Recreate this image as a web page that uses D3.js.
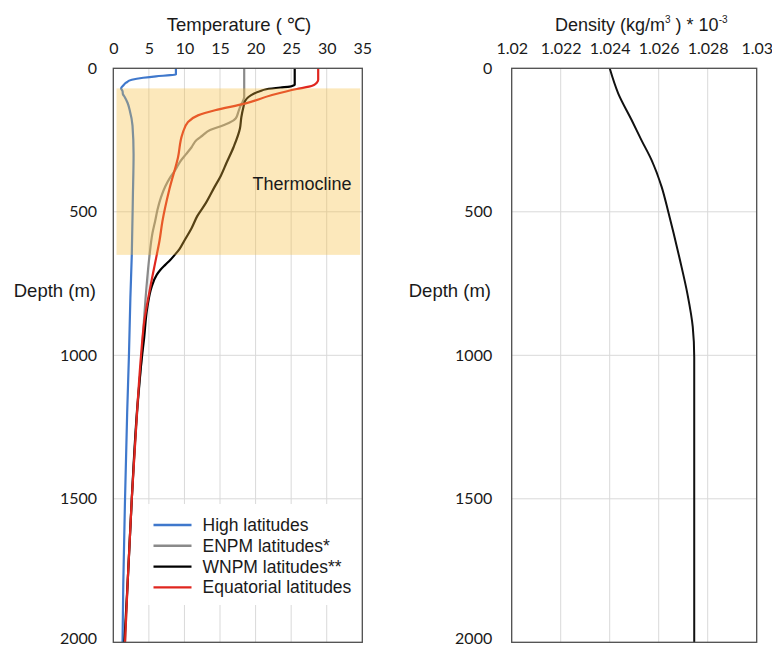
<!DOCTYPE html>
<html>
<head>
<meta charset="utf-8">
<script src="https://cdn.jsdelivr.net/npm/d3@7"></script>
<style>
  body { margin: 0; background: #fff; }
  svg { display: block; background: #fff; }
  text { font-family: "Liberation Sans", Arial, sans-serif; fill: #1a1a1a; }
  .tick text { font-family: Lato, "Open Sans", sans-serif; font-size: 16px; fill: #1a1a1a; }
</style>
</head>
<body>
<div id="chart"></div>
<script>
// ticks
var depthTicks = [0, 500, 1000, 1500, 2000];
var tempTicks = [0, 5, 10, 15, 20, 25, 30, 35];
var densityTicks = [1.02, 1.022, 1.024, 1.026, 1.028, 1.03];

// series: [depth (m), temperature (°C)]
var seriesNames = ["High latitudes", "ENPM latitudes*", "WNPM latitudes**", "Equatorial latitudes"];
var seriesColors = ["#3f78cc", "#8a8a8a", "#000000", "#e0261f"];

var highLatitudes = [[0, 8.8], [22, 8.8], [24, 8.0], [28, 6.0], [33, 4.2], [40, 2.6], [50, 1.8], [60, 1.4],
    [70, 1.1], [80, 1.3], [90, 1.35], [100, 1.6], [120, 2.0], [145, 2.3], [200, 2.7], [300, 2.85],
    [450, 2.75], [650, 2.6], [800, 2.4], [1000, 2.2], [1200, 1.95], [1500, 1.65], [1800, 1.4], [2000, 1.3]];

var enpmLatitudes = [[0, 18.4], [100, 18.4], [115, 18.2], [130, 17.9], [150, 17.6], [175, 17.2], [190, 16.3],
    [200, 15.3], [215, 13.6], [235, 12.5], [250, 11.7], [275, 11.0], [300, 10.2], [325, 9.4], [355, 8.7],
    [380, 8.0], [412, 7.3], [450, 6.7], [494, 6.2], [530, 5.9], [575, 5.5], [650, 5.1], [767, 4.65],
    [883, 4.3], [1000, 4.0], [1200, 3.35], [1500, 2.6], [1800, 2.0], [2000, 1.65]];

var wnpmLatitudes = [[0, 25.5], [57, 25.5], [60, 25.3], [64, 24.8], [67, 23.5], [73, 21.5], [80, 20.6],
    [88, 19.8], [100, 19.0], [115, 18.5], [134, 18.3], [170, 18.0], [210, 17.8], [275, 16.9], [330, 15.9],
    [375, 15.1], [415, 14.2], [470, 13.0], [515, 11.8], [557, 11.0], [600, 10.0], [630, 9.3], [651, 8.6],
    [668, 8.0], [685, 7.3], [703, 6.6], [720, 6.1], [761, 5.4], [830, 4.8], [947, 4.3], [1000, 4.05],
    [1173, 3.4], [1500, 2.6], [1800, 2.0], [2000, 1.55]];

var equatorialLatitudes = [[0, 28.8], [40, 28.8], [50, 28.6], [58, 28.2], [64, 27.5], [72, 25.8], [94, 22.2],
    [123, 18.5], [146, 14.3], [164, 11.9], [187, 10.5], [230, 9.7], [310, 9.1], [420, 7.9], [534, 6.9],
    [600, 6.5], [651, 6.1], [750, 5.3], [883, 4.35], [1000, 3.9], [1173, 3.4], [1500, 2.6], [1800, 2.0],
    [2000, 1.65]];

var temperatureSeries = [highLatitudes, enpmLatitudes, wnpmLatitudes, equatorialLatitudes];

// thermocline depth range (m)
var thermocline = [70, 650];

// density: [depth (m), density]
var densityProfile = [[0, 1.0240], [88, 1.02435], [181, 1.0249], [251, 1.0253], [320, 1.02571],
    [413, 1.02612], [500, 1.02639], [669, 1.02687], [785, 1.02717], [901, 1.02739], [1006, 1.02745],
    [2000, 1.02745]];

var svg = d3.select("#chart").append("svg")
    .attr("width", 772)
    .attr("height", 646);

class DepthProfile {
    constructor(svg, left, right, xDomain) {
        this.svg = svg;
        this.x = d3.scaleLinear().domain(xDomain).range([left, right]);
        this.y = d3.scaleLinear().domain([0, 2000]).range([68.3, 642.3]);
        this.g = svg.append("g");
        this.gridLayer = this.g.append("g");
        this.markLayer = this.g.append("g");
        this.topLayer = this.g.append("g");
    }

    /**
     * light gray gridlines inside the frame
     */
    addGrid(xTicks) {
        var x = this.x, y = this.y;
        this.gridLayer.append("g").selectAll("line")
            .data(xTicks.slice(1, -1)).join("line")
            .attr("x1", x).attr("x2", x)
            .attr("y1", y(0)).attr("y2", y(2000))
            .attr("stroke", "#d9d9d9").attr("stroke-width", 1);
        this.gridLayer.append("g").selectAll("line")
            .data(depthTicks.slice(1, -1)).join("line")
            .attr("x1", x.range()[0]).attr("x2", x.range()[1])
            .attr("y1", y).attr("y2", y)
            .attr("stroke", "#d9d9d9").attr("stroke-width", 1);
        return this;
    }

    /**
     * tick labels on top and left, no tick marks
     */
    addAxes(xTicks, format, yPad, yLabelEnd) {
        var top = this.topLayer.append("g")
            .attr("transform", "translate(0," + this.y(0) + ")")
            .call(d3.axisTop(this.x).tickValues(xTicks).tickSize(0).tickPadding(14).tickFormat(format));
        top.select(".domain").remove();

        var left = this.topLayer.append("g")
            .attr("transform", "translate(" + this.x.range()[0] + ",0)")
            .call(d3.axisLeft(this.y).tickValues(depthTicks).tickSize(0).tickPadding(yPad).tickFormat(d3.format("d")));
        left.select(".domain").remove();
        // last label would run off the bottom edge
        left.selectAll(".tick text").filter((d) => d === 2000).attr("dy", "0.1em");

        this.topLayer.append("text")
            .attr("x", yLabelEnd)
            .attr("y", 290)
            .attr("text-anchor", "end")
            .attr("dominant-baseline", "central")
            .attr("font-size", "18.5px")
            .text("Depth (m)");
        return this;
    }

    addLine(data, color, width) {
        var line = d3.line()
            .x((d) => this.x(d[1]))
            .y((d) => this.y(d[0]))
            .curve(d3.curveMonotoneY);
        this.markLayer.append("path")
            .datum(data)
            .attr("d", line)
            .attr("fill", "none")
            .attr("stroke", color)
            .attr("stroke-width", width)
            .attr("stroke-linejoin", "round");
        return this;
    }

    addFrame() {
        var x = this.x.range(), y = this.y.range();
        this.topLayer.append("rect")
            .attr("x", x[0]).attr("y", y[0])
            .attr("width", x[1] - x[0]).attr("height", y[1] - y[0])
            .attr("fill", "none")
            .attr("stroke", "#4d4d4d")
            .attr("stroke-width", 1.3);
        return this;
    }
}

// LEFT: temperature
var temp = new DepthProfile(svg, 113.3, 362.3, [0, 35]);
temp.addGrid(tempTicks);

// legend background covers the grid
temp.gridLayer.append("rect")
    .attr("x", temp.x(4.9)).attr("y", 504)
    .attr("width", temp.x(35) - temp.x(4.9) - 1).attr("height", 101)
    .attr("fill", "#fff");

temperatureSeries.forEach((s, i) => temp.addLine(s, seriesColors[i], 2.2));

// thermocline band sits over the lines, semi transparent
temp.markLayer.append("rect")
    .attr("x", temp.x(0.45))
    .attr("y", temp.y(thermocline[0]))
    .attr("width", temp.x(34.7) - temp.x(0.45))
    .attr("height", temp.y(thermocline[1]) - temp.y(thermocline[0]))
    .attr("fill", "#f5bd3c")
    .attr("fill-opacity", 0.35);

temp.topLayer.append("text")
    .attr("x", 252.5)
    .attr("y", 190)
    .attr("font-family", "Lato, 'Open Sans', sans-serif")
    .attr("font-size", "18px")
    .text("Thermocline");

temp.addAxes(tempTicks, d3.format("d"), 16.3, 96).addFrame();

temp.topLayer.append("text")
    .attr("x", 239)
    .attr("y", 31)
    .attr("text-anchor", "middle")
    .attr("font-size", "18.5px")
    .text("Temperature ( \u2103)");

// legend
var legend = temp.topLayer.append("g").selectAll("g")
    .data(seriesNames).join("g")
    .attr("transform", (d, i) => "translate(153.5," + (525 + i * 20.8) + ")");
legend.append("line")
    .attr("x1", 0).attr("x2", 38)
    .attr("stroke", (d, i) => seriesColors[i])
    .attr("stroke-width", 2.4);
legend.append("text")
    .attr("x", 49)
    .attr("dominant-baseline", "central")
    .attr("font-size", "17.5px")
    .text((d) => d);

// RIGHT: density
var dens = new DepthProfile(svg, 511.7, 756.7, [1.02, 1.03]);
dens.addGrid(densityTicks);
dens.addLine(densityProfile, "#111", 2);
dens.addAxes(densityTicks, (d) => String(+d.toFixed(3)), 19.5, 491).addFrame();

var dTitle = dens.topLayer.append("text")
    .attr("x", 555)
    .attr("y", 31)
    .attr("font-size", "18px");
dTitle.append("tspan").text("Density (kg/m");
dTitle.append("tspan").attr("font-size", "10px").attr("dy", -8).text("3");
dTitle.append("tspan").attr("dy", 8).text(" )   * 10");
dTitle.append("tspan").attr("font-size", "10px").attr("dy", -8).text("-3");
</script>
</body>
</html>
